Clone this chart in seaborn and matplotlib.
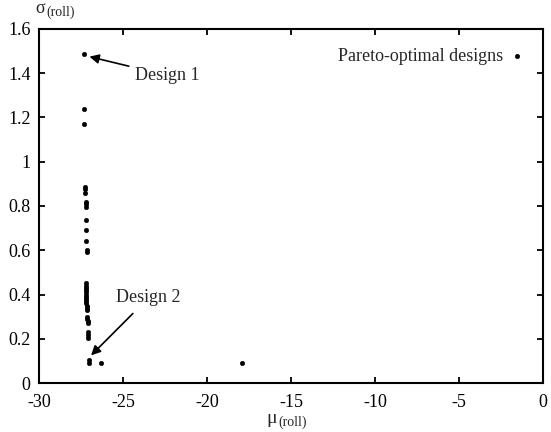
import numpy as np
import pandas as pd
import matplotlib
matplotlib.use('Agg')
import matplotlib.pyplot as plt
import seaborn as sns

# ─── Données ──────────────────────────────────────────────────────────────────
mu_roll = [-27.35, -27.35, -27.35,
           -27.25, -27.25, -27.25, -27.2, -27.2, -27.2, -27.2, -27.2, -27.2,
           -27.15, -27.15,
           -27.2, -27.2, -27.2, -27.2, -27.2, -27.2, -27.2, -27.2, -27.2, -27.2,
           -27.15, -27.15, -27.15, -27.15, -27.15, -27.1, -27.1,
           -27.1, -27.1, -27.1, -27.05, -27.05,
           -26.3, -17.9]
sigma_roll = [1.485, 1.24, 1.17,
              0.885, 0.875, 0.86, 0.82, 0.81, 0.795, 0.735, 0.69, 0.64,
              0.60, 0.59,
              0.45, 0.44, 0.43, 0.42, 0.41, 0.40, 0.39, 0.38, 0.37, 0.36,
              0.35, 0.34, 0.33, 0.30, 0.29, 0.28, 0.27,
              0.23, 0.215, 0.205, 0.105, 0.09,
              0.09, 0.09]
x_ticks = [-30, -25, -20, -15, -10, -5, 0]
y_ticks = [0, 0.2, 0.4, 0.6, 0.8, 1, 1.2, 1.4, 1.6]
y_ticklabels = ['0', '0.2', '0.4', '0.6', '0.8', '1', '1.2', '1.4', '1.6']

df = pd.DataFrame({'mu': mu_roll, 'sigma': sigma_roll})

# ─── Style ────────────────────────────────────────────────────────────────────
sns.set_style('ticks')
plt.rcParams['font.family'] = ['Liberation Serif', 'DejaVu Serif']

fig = plt.figure(figsize=(5.51, 4.32), dpi=100)
ax = fig.add_axes([0.0708, 0.1134, 0.9147, 0.8195])

sns.scatterplot(data=df, x='mu', y='sigma', ax=ax, color='black', s=11,
                marker='o', edgecolor='black', linewidth=0.3,
                label='Pareto-optimal designs')

ax.set_xlim(-30, 0)
ax.set_ylim(0, 1.6)
ax.set_xticks(x_ticks)
ax.set_xticklabels([str(t) for t in x_ticks])
ax.set_yticks(y_ticks)
ax.set_yticklabels(y_ticklabels)
ax.tick_params(direction='in', top=True, right=True, length=4, width=1.3,
               labelsize=13, colors='black')
ax.tick_params(axis='x', pad=8)
ax.tick_params(axis='y', pad=6)
for sp in ax.spines.values():
    sp.set_linewidth(1.5)
    sp.set_color('black')

ax.set_xlabel('')
ax.set_ylabel('')

# Libellés des axes avec indice "(roll)"
fig.text(0.064, 0.970, 'σ', fontsize=13, ha='left', va='baseline')
fig.text(0.085, 0.963, '(roll)', fontsize=10, ha='left', va='baseline')
fig.text(0.502, 0.020, 'μ', fontsize=14, ha='right', va='baseline')
fig.text(0.506, 0.014, '(roll)', fontsize=10, ha='left', va='baseline')

# Légende
leg = ax.legend(loc='upper right', frameon=False, markerfirst=False,
                fontsize=13, handletextpad=0.4, handlelength=0.8,
                borderaxespad=0.4, bbox_to_anchor=(0.992, 0.988),
                markerscale=1.0)

# Annotations
ax.annotate('Design 1', xy=(-27.0, 1.475), xytext=(-24.3, 1.39),
            fontsize=13, ha='left', va='center',
            arrowprops=dict(arrowstyle='-|>', color='black', lw=1.2,
                            mutation_scale=14, shrinkA=2, shrinkB=0))
ax.annotate('Design 2', xy=(-26.9, 0.125), xytext=(-25.4, 0.385),
            fontsize=13, ha='left', va='center',
            arrowprops=dict(arrowstyle='-|>', color='black', lw=1.2,
                            mutation_scale=14, shrinkA=4, shrinkB=0))

plt.savefig('out.png', dpi=100)
plt.close()
